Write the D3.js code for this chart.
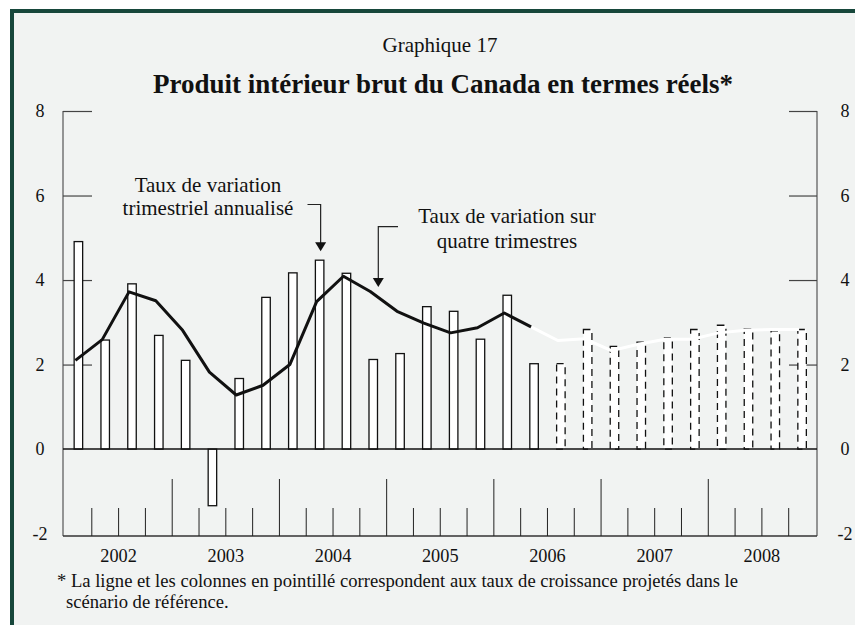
<!DOCTYPE html>
<html>
<head>
<meta charset="utf-8">
<script src="https://cdn.jsdelivr.net/npm/d3@7"></script>
<style>
  body { margin: 0; background: #fff; }
  svg text { font-family: "Liberation Serif", "Times New Roman", serif; fill: #111; }
</style>
</head>
<body>
<div id="chart"></div>
<script>
// Données : taux trimestriel annualisé (colonnes) et taux sur quatre trimestres (ligne)
const years = ["2002", "2003", "2004", "2005", "2006", "2007", "2008"];
const quarterlyRate = [4.91, 2.58, 3.91, 2.69, 2.10, -1.34, 1.67, 3.59, 4.17, 4.47, 4.16, 2.12, 2.26, 3.37,
                       3.26, 2.60, 3.64, 2.02, 2.02, 2.83, 2.43, 2.53, 2.63, 2.83, 2.93, 2.84, 2.80, 2.83];
const fourQuarterRate = [2.10, 2.59, 3.72, 3.51, 2.81, 1.82, 1.28, 1.51, 2.00, 3.49, 4.09, 3.73, 3.26, 2.98,
                         2.75, 2.87, 3.22, 2.89, 2.57, 2.61, 2.33, 2.48, 2.60, 2.60, 2.75, 2.81, 2.83, 2.83];
const firstProjected = 18;   // premier trimestre projeté (2006T3)
const yTicks = [-2, 0, 2, 4, 6, 8];

const W = 855, H = 625;
const svg = d3.select("#chart").append("svg").attr("width", W).attr("height", H);

// cadre
svg.append("rect").attr("x", 10).attr("y", 9).attr("width", W).attr("height", H).attr("fill", "#f1f3f2");
svg.append("rect").attr("x", 10).attr("y", 9).attr("width", W).attr("height", 4).attr("fill", "#17473b");
svg.append("rect").attr("x", 10).attr("y", 9).attr("width", 4).attr("height", H).attr("fill", "#17473b");

svg.append("text").attr("x", 440).attr("y", 52).attr("text-anchor", "middle")
   .style("font-size", "21px").text("Graphique 17");
svg.append("text").attr("x", 443).attr("y", 93).attr("text-anchor", "middle")
   .style("font-size", "27px").style("font-weight", "bold")
   .text("Produit intérieur brut du Canada en termes réels*");

const nQ = quarterlyRate.length;
const x = d3.scaleLinear().domain([0, nQ]).range([65, 815.5]);
const y = d3.scaleLinear().domain([-2, 8]).range([533.6, 111]);
const left = 63, right = 817, bottom = 536;

// axes verticaux
const axL = svg.append("g").attr("transform", `translate(${left},0)`)
   .call(d3.axisLeft(y).tickValues(yTicks).tickSize(-29).tickPadding(0).tickFormat(d => d));
const axR = svg.append("g").attr("transform", `translate(${right},0)`)
   .call(d3.axisRight(y).tickValues(yTicks).tickSize(-28).tickPadding(0).tickFormat(d => d));
[axL, axR].forEach(g => {
  g.select(".domain").attr("d", `M0,${y(8)}V${bottom}`).attr("stroke", "#555").attr("stroke-width", 1.2);
  g.selectAll(".tick line").attr("stroke", "#444").attr("stroke-width", 1.2);
  g.selectAll(".tick text").attr("text-anchor", "middle").style("font-size", "18px")
   .attr("fill", "#111");
});
axL.selectAll(".tick text").attr("x", -23);
axR.selectAll(".tick text").attr("x", 28);
axL.selectAll(".tick").filter(d => d <= 0).select("line").remove();
axR.selectAll(".tick").filter(d => d <= 0).select("line").remove();

// axe horizontal : traits des trimestres et des années
svg.append("line").attr("x1", left).attr("x2", right).attr("y1", bottom).attr("y2", bottom)
   .attr("stroke", "#333").attr("stroke-width", 1.5);
svg.append("g").selectAll("line").data(d3.range(1, nQ)).join("line")
   .attr("x1", d => x(d)).attr("x2", d => x(d))
   .attr("y1", bottom).attr("y2", d => d % 4 === 0 ? bottom - 57 : bottom - 28)
   .attr("stroke", "#222").attr("stroke-width", 1);
svg.append("g").selectAll("text").data(years).join("text")
   .attr("x", (d, i) => x(i * 4 + 2)).attr("y", 562).attr("text-anchor", "middle")
   .style("font-size", "18.3px").text(d => d);

// colonnes
const bars = quarterlyRate.map((v, i) => ({ i, v, proj: i >= firstProjected }));
const bw = 8.5;
svg.append("g").selectAll("rect").data(bars).join("rect")
   .attr("x", d => x(d.i + 0.5) - bw / 2)
   .attr("y", d => y(Math.max(0, d.v)))
   .attr("width", bw)
   .attr("height", d => Math.abs(y(d.v) - y(0)))
   .attr("fill", "#fff")
   .attr("stroke", "#111").attr("stroke-width", 1.3)
   .attr("stroke-dasharray", d => d.proj ? "7,5" : null);

// ligne zéro
svg.append("line").attr("x1", left).attr("x2", right).attr("y1", y(0)).attr("y2", y(0))
   .attr("stroke", "#111").attr("stroke-width", 1.5);

// ligne sur quatre trimestres
const line = d3.line().x(d => x(d.i + 0.5) - 3).y(d => y(d.v));
const pts = fourQuarterRate.map((v, i) => ({ i, v }));
svg.append("path").datum(pts.slice(firstProjected - 1))
   .attr("d", line).attr("fill", "none").attr("stroke", "#fff").attr("stroke-width", 3);
svg.append("path").datum(pts.slice(0, firstProjected))
   .attr("d", line).attr("fill", "none").attr("stroke", "#111").attr("stroke-width", 3)
   .attr("stroke-linejoin", "round");

// annotations
const ann = svg.append("g").style("font-size", "21px");
ann.append("text").attr("x", 208).attr("y", 192).attr("text-anchor", "middle").text("Taux de variation");
ann.append("text").attr("x", 208).attr("y", 215).attr("text-anchor", "middle").text("trimestriel annualisé");
ann.append("text").attr("x", 507).attr("y", 223).attr("text-anchor", "middle").text("Taux de variation sur");
ann.append("text").attr("x", 507).attr("y", 248).attr("text-anchor", "middle").text("quatre trimestres");

function arrow(x0, xa, yTop, yTip) {
  ann.append("path").attr("d", `M${x0},${yTop}H${xa}V${yTip - 8}`)
     .attr("fill", "none").attr("stroke", "#222").attr("stroke-width", 1.2);
  ann.append("path").attr("d", `M${xa - 5.5},${yTip - 9}L${xa + 5.5},${yTip - 9}L${xa},${yTip}Z`).attr("fill", "#111");
}
arrow(307.5, x(9.5) + 1, 204.5, y(quarterlyRate[9]) - 9);
arrow(398, 378.3, 226.7, 287);

// note
const note = svg.append("g").style("font-size", "18.6px");
note.append("text").attr("x", 57).attr("y", 587)
    .text("* La ligne et les colonnes en pointillé correspondent aux taux de croissance projetés dans le");
note.append("text").attr("x", 66).attr("y", 608).text("scénario de référence.");
</script>
</body>
</html>
